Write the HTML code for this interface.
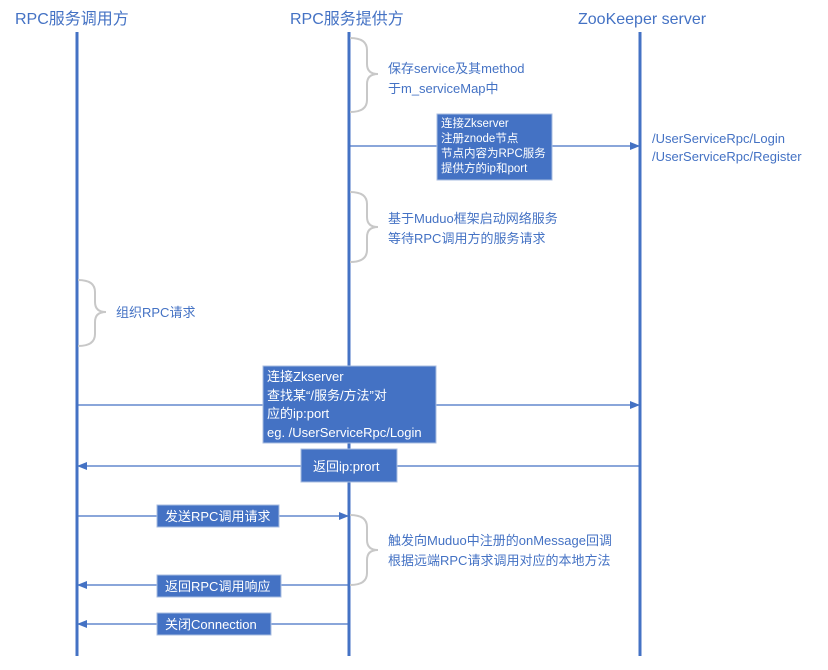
<!DOCTYPE html>
<html><head><meta charset="utf-8"><style>
body{margin:0;background:#fff;width:828px;height:665px;overflow:hidden}
svg{font-family:"Liberation Sans","Noto Sans CJK SC",sans-serif}
</style></head><body>
<svg width="828" height="665" viewBox="0 0 828 665" xmlns="http://www.w3.org/2000/svg">
<defs><marker id="a" markerWidth="10" markerHeight="8" refX="9" refY="4" orient="auto" markerUnits="userSpaceOnUse"><path d="M0,0 L10,4 L0,8 z" fill="#4472c4"/></marker></defs>
<g fill="#4472c4" font-size="16">
<text x="15" y="24">RPC服务调用方</text>
<text x="290" y="24">RPC服务提供方</text>
<text x="578" y="24">ZooKeeper server</text>
</g>
<g stroke="#4472c4" stroke-width="3">
<line x1="77" y1="32" x2="77" y2="656"/>
<line x1="349" y1="32" x2="349" y2="656"/>
<line x1="640" y1="32" x2="640" y2="656"/>
</g>
<g stroke="#c8c8c8" stroke-width="2" fill="none">
<path d="M350,38 Q367,38 367,50 L367,64 Q367,74 378,74 Q367,74 367,84 L367,100 Q367,112 350,112"/>
<path d="M350,192 Q367,192 367,204 L367,217 Q367,227 378,227 Q367,227 367,237 L367,250 Q367,262 350,262"/>
<path d="M78,280 Q95,280 95,292 L95,302 Q95,312 106,312 Q95,312 95,322 L95,334 Q95,346 78,346"/>
<path d="M350,515 Q367,515 367,527 L367,540 Q367,550 378,550 Q367,550 367,560 L367,573 Q367,585 350,585"/>
</g>
<g stroke="#4472c4" stroke-width="1.3">
<line x1="349" y1="146" x2="639" y2="146" marker-end="url(#a)"/>
<line x1="77" y1="405" x2="639" y2="405" marker-end="url(#a)"/>
<line x1="640" y1="466" x2="78" y2="466" marker-end="url(#a)"/>
<line x1="77" y1="516" x2="348" y2="516" marker-end="url(#a)"/>
<line x1="349" y1="585" x2="78" y2="585" marker-end="url(#a)"/>
<line x1="349" y1="624" x2="78" y2="624" marker-end="url(#a)"/>
</g>
<g fill="#4472c4" stroke="#a9bde0" stroke-width="1">
<rect x="437" y="114" width="115" height="66"/>
<rect x="263" y="366" width="173" height="77"/>
<rect x="301" y="449" width="96" height="33"/>
<rect x="157" y="505" width="122" height="22"/>
<rect x="157" y="575" width="124" height="22"/>
<rect x="157" y="613" width="114" height="22"/>
</g>
<g fill="#fff" font-size="11.5">
<text x="441" y="127">连接Zkserver</text>
<text x="441" y="142">注册znode节点</text>
<text x="441" y="157">节点内容为RPC服务</text>
<text x="441" y="172">提供方的ip和port</text>
</g>
<g fill="#fff" font-size="13">
<text x="267" y="381">连接Zkserver</text>
<text x="267" y="400">查找某“/服务/方法”对</text>
<text x="267" y="418">应的ip:port</text>
<text x="267" y="437">eg. /UserServiceRpc/Login</text>
<text x="313" y="471">返回ip:prort</text>
<text x="165" y="521">发送RPC调用请求</text>
<text x="165" y="591">返回RPC调用响应</text>
<text x="165" y="629">关闭Connection</text>
</g>
<g fill="#4472c4" font-size="13">
<text x="388" y="73">保存service及其method</text>
<text x="388" y="93">于m_serviceMap中</text>
<text x="652" y="143">/UserServiceRpc/Login</text>
<text x="652" y="161">/UserServiceRpc/Register</text>
<text x="388" y="223">基于Muduo框架启动网络服务</text>
<text x="388" y="243">等待RPC调用方的服务请求</text>
<text x="116" y="317">组织RPC请求</text>
<text x="388" y="545">触发向Muduo中注册的onMessage回调</text>
<text x="388" y="565">根据远端RPC请求调用对应的本地方法</text>
</g>
</svg>
</body></html>
